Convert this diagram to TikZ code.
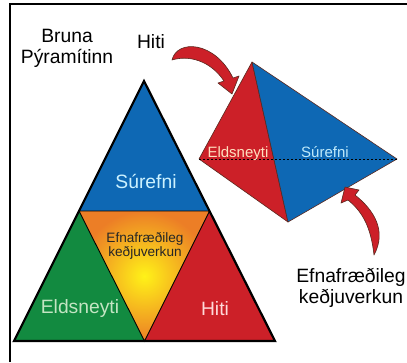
\documentclass[tikz,border=0pt]{standalone}
\usepackage{fontspec}
\setmainfont{Liberation Sans}
\usetikzlibrary{calc}
\definecolor{fireblue}{RGB}{14,104,180}
\definecolor{firered}{RGB}{204,32,40}
\definecolor{firegreen}{RGB}{18,138,64}
\definecolor{fireorange}{RGB}{236,126,38}
\definecolor{fireyellow}{RGB}{255,242,24}
\definecolor{edgebrown}{RGB}{90,40,30}

\begin{document}
\begin{tikzpicture}[x=1pt,y=-1pt,
    every node/.style={anchor=base,inner sep=0pt,font=\fontsize{19.3}{21}\selectfont},
    facetxt/.style={font=\fontsize{15}{16}\selectfont},
    smalltxt/.style={font=\fontsize{13.6}{15}\selectfont,text=black!85},
    face/.style={draw=edgebrown,line width=0.6pt,line join=round},
    firearrow/.style={fill=firered,draw=edgebrown,line width=0.6pt,line join=round}]
    \useasboundingbox[fill=white] (0,0) rectangle (407,362);
    \coordinate (fl) at (10,362);
    \coordinate (fc) at (10,4);
    \coordinate (fr) at (407,4);
    \draw[line width=1.3pt] (fl) -- (fc) -- (fr);

    \coordinate (top) at (144,81);
    \coordinate (botl) at (14,341);
    \coordinate (botr) at (275,341);
    \coordinate (ml) at ($(top)!0.5!(botl)$);
    \coordinate (mr) at ($(top)!0.5!(botr)$);
    \coordinate (mb) at ($(botl)!0.5!(botr)$);
    \fill[fireblue] (top) -- (ml) -- (mr) -- cycle;
    \fill[firegreen] (ml) -- (botl) -- (mb) -- cycle;
    \fill[firered] (mr) -- (mb) -- (botr) -- cycle;
    \shade[inner color=fireyellow,outer color=fireorange] (ml) -- (mr) -- (mb) -- cycle;
    \draw[line width=0.9pt] (ml) -- (mr) -- (mb) -- cycle;
    \draw[line width=2.2pt,line join=miter] (top) -- (botl) -- (botr) -- cycle;

    \coordinate (ttop) at (252,62);
    \coordinate (tleft) at (199,159);
    \coordinate (tright) at (397,159);
    \coordinate (tbot) at (288,222);
    \filldraw[face,fill=firered] (ttop) -- (tleft) -- (tbot) -- cycle;
    \filldraw[face,fill=fireblue] (ttop) -- (tbot) -- (tright) -- cycle;
    \draw[dashed,dash pattern=on 2pt off 2pt,line width=0.6pt] (tleft) -- (tright);

    \filldraw[firearrow] (172,60) .. controls (177,39) and (215,41) .. (233,78)
        -- (239,76) -- (232,94) -- (218,83) -- (224,81)
        .. controls (210,60) and (188,55) .. (172,60) -- cycle;
    \filldraw[firearrow] (374,255) .. controls (371,229) and (364,213) .. (348,200)
        -- (341,203) -- (345,187) -- (359,190) -- (355,195)
        .. controls (374,210) and (387,231) .. (374,255) -- cycle;

    \node (bruna) at (67,42) {Bruna};
    \node (pyramid) at (67,63) {Pýramítinn};
    \node (hititop) at (151,48) {Hiti};
    \node[text=blue!25!cyan!20] (surefni) at (146,188) {Súrefni};
    \node[smalltxt] (efna) at (145,242) {Efnafræðileg};
    \node[smalltxt] (kedja) at (145,256) {keðjuverkun};
    \node[text=green!15!white!90!black] (eldsneyti) at (80,313) {Eldsneyti};
    \node[text=red!15!white] (hiti) at (215,315) {Hiti};
    \node[facetxt,text=orange!25!white] (teldsneyti) at (238,157) {Eldsneyti};
    \node[facetxt,text=cyan!25!white] (tsurefni) at (325,157) {Súrefni};
    \node (efnaright) at (351,282) {Efnafræðileg};
    \node (kedjaright) at (351,303) {keðjuverkun};
\end{tikzpicture}
\end{document}
